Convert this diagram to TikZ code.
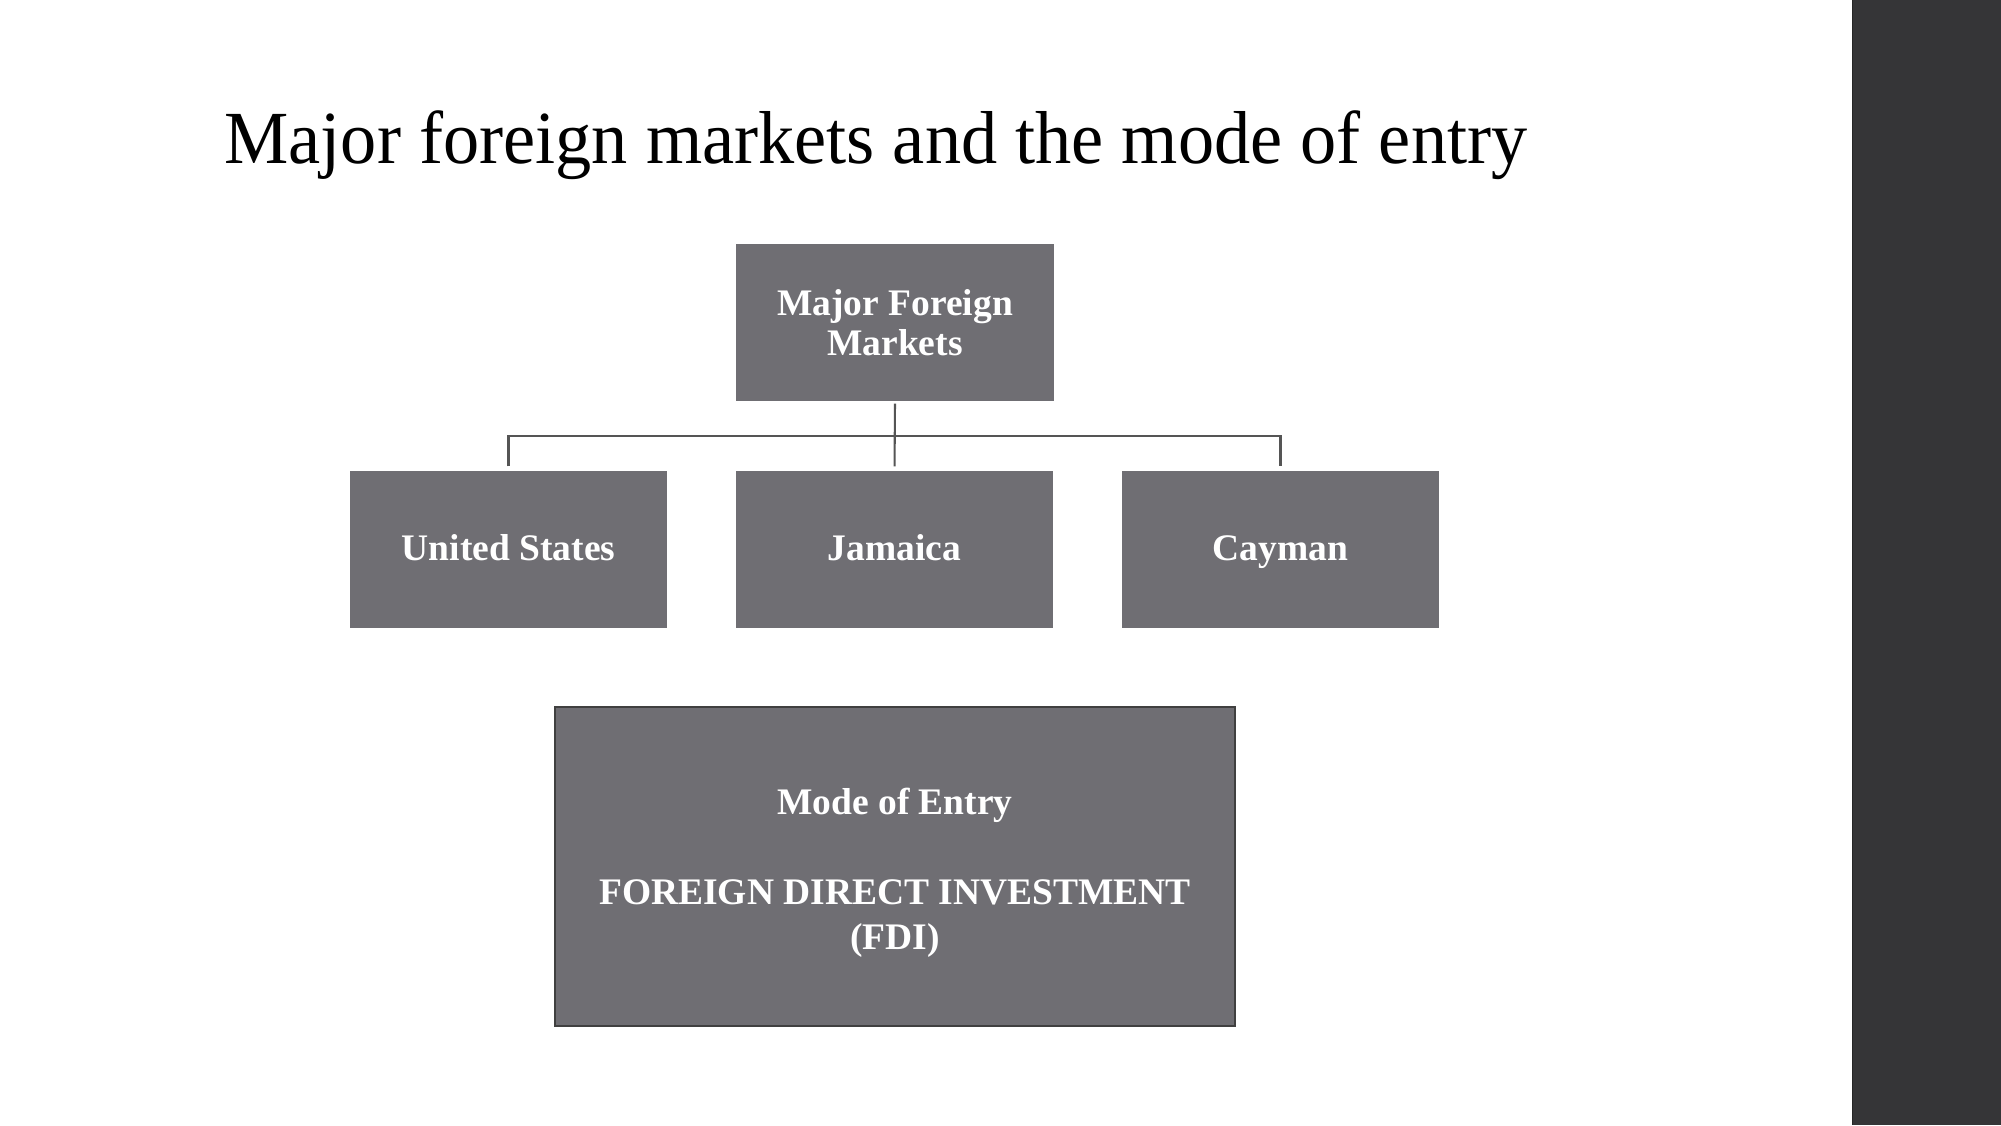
\documentclass[tikz,border=0pt]{standalone}
\usepackage{fontspec}
\setmainfont{Liberation Serif}
\newfontfamily\titlefont{Liberation Serif}[FakeStretch=0.964]
\definecolor{boxfill}{RGB}{111,110,115}
\definecolor{barfill}{RGB}{53,53,55}
\definecolor{linegray}{RGB}{85,85,85}
\begin{document}
\begin{tikzpicture}[x=0.48pt,y=-0.48pt,
  mbox/.style={rectangle,fill=boxfill,inner sep=0pt,text=white,
    font=\bfseries\fontsize{18}{19.5}\selectfont,align=center,
    minimum width=152.2pt,minimum height=75.4pt},
  oneline/.style={text height=13pt,text depth=2pt},
  conn/.style={draw=linegray,line width=1pt}]
\useasboundingbox (0,0) rectangle (2001,1125);
\fill[white] (0,0) rectangle (2001,1125);
\fill[barfill] (1852,0) rectangle (2001,1125);
\draw[black!85,line width=0.8pt] (1852.5,0) -- (1852.5,1125);
\node[anchor=base west,inner sep=0pt,font=\titlefont\fontsize{36}{43}\selectfont] (title) at (224,163) {Major foreign markets and the mode of entry};
\node[mbox] (top) at (895,322.5) {Major Foreign\\Markets};
\node[mbox,oneline] (us) at (508.5,549.5) {United States};
\node[mbox,oneline] (jam) at (894.5,549.5) {Jamaica};
\node[mbox,oneline] (cay) at (1280.5,549.5) {Cayman};
\node[mbox,draw=black!75,line width=1pt,minimum width=326.4pt,minimum height=153.1pt] (mode) at (895,866.5) {};
\node[text=white,inner sep=0pt,align=center,font=\bfseries\fontsize{18}{21.6}\selectfont] (modetext) at (895,872.5)
  {Mode of Entry\\[21.6pt]FOREIGN DIRECT INVESTMENT\\(FDI)};
\coordinate (bus) at (895,436);
\draw[conn,shorten <=1pt,shorten >=2pt] (top.south) -- (jam.north);
\draw[conn,shorten <=2pt,shorten >=2pt] (us.north) -- (us.north |- bus) -- (cay.north |- bus) -- (cay.north);
\end{tikzpicture}
\end{document}
